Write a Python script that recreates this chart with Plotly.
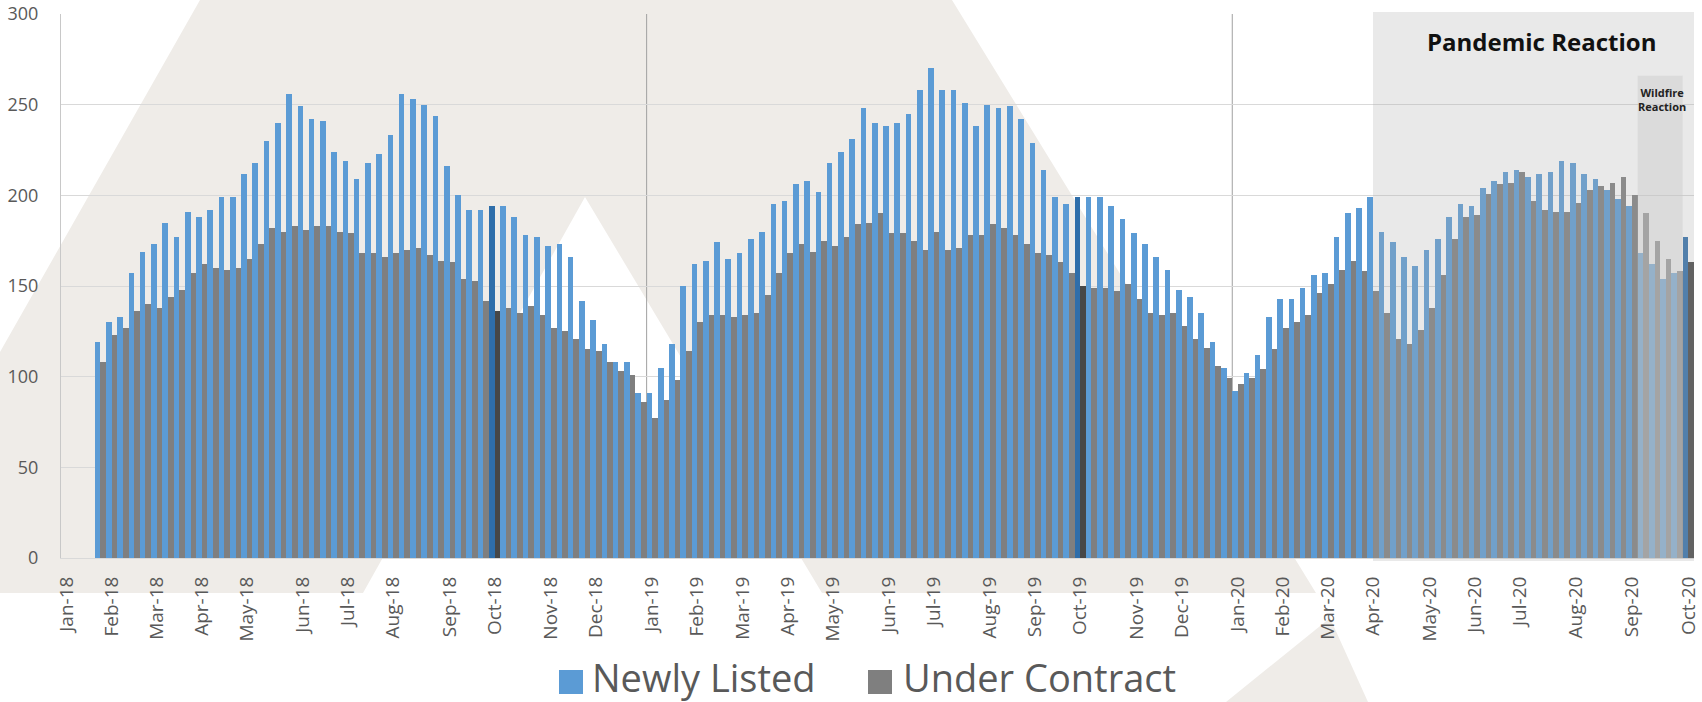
import plotly.graph_objects as go

# ---------------- data ----------------
weeks = list(range(145))  # weekly categories, Jan-18 .. Oct-20

newly_listed = [None, None, None,
    119,130,133,157,169,173,185,177,191,188,
    192,199,199,212,218,230,240,256,249,242,
    241,224,219,209,218,223,233,256,253,250,
    244,216,200,192,192,194,194,188,178,177,
    172,173,166,142,131,118,108,108,91,91,
    105,118,150,162,164,174,165,168,176,180,
    195,197,206,208,202,218,224,231,248,240,
    238,240,245,258,270,258,258,251,238,250,
    248,249,242,229,214,199,195,199,199,199,
    194,187,179,173,166,159,148,144,135,119,
    105,92,102,112,133,143,143,149,156,157,
    177,190,193,199,180,174,166,161,170,176,
    188,195,194,204,208,213,214,210,212,213,
    219,218,212,209,203,198,194,168,162,154,
    157,177]

under_contract = [None, None, None,
    108,123,127,136,140,138,144,148,157,162,
    160,159,160,165,173,182,180,183,181,183,
    183,180,179,168,168,166,168,170,171,167,
    164,163,154,153,142,136,138,135,139,134,
    127,125,121,115,114,108,103,101,86,77,
    87,98,114,130,134,134,133,134,135,145,
    157,168,173,169,175,172,177,184,185,190,
    179,179,175,170,180,170,171,178,178,184,
    182,178,173,168,167,163,157,150,149,149,
    147,151,143,135,134,135,128,121,116,106,
    99,96,99,104,115,127,130,134,146,151,
    159,164,158,147,135,121,118,126,138,156,
    176,188,189,201,206,207,213,197,192,191,
    191,196,203,205,207,210,200,190,175,165,
    158,163]

month_tick_pos = [0, 4, 8, 12, 16, 21, 25, 29, 34, 38, 43, 47,
                  52, 56, 60, 64, 68, 73, 77, 82, 86, 90, 95, 99,
                  104, 108, 112, 116, 121, 125, 129, 134, 139, 144]
month_tick_labels = ["Jan-18", "Feb-18", "Mar-18", "Apr-18", "May-18", "Jun-18",
                     "Jul-18", "Aug-18", "Sep-18", "Oct-18", "Nov-18", "Dec-18",
                     "Jan-19", "Feb-19", "Mar-19", "Apr-19", "May-19", "Jun-19",
                     "Jul-19", "Aug-19", "Sep-19", "Oct-19", "Nov-19", "Dec-19",
                     "Jan-20", "Feb-20", "Mar-20", "Apr-20", "May-20", "Jun-20",
                     "Jul-20", "Aug-20", "Sep-20", "Oct-20"]
highlight_weeks = [38, 90, 144]   # first week of October each year
year_breaks = [51.5, 103.5]
pandemic_start = 116
wildfire_span = [139.5, 143.5]
wildfire_top = 266

# ---------------- style ----------------
BLUE, BLUE_DARK = "#5B9BD5", "#2F6EAA"
GRAY, GRAY_DARK = "#7F7F7F", "#474747"
TXT = "#595959"
FONT = "Open Sans"

W, H = 1702, 702
ML, MR, MT, MB = 61, 8, 14, 144
PW, PH = W - ML - MR, H - MT - MB


def px(xp):
    return (xp - ML) / PW


def py(yp):
    return (H - MB - yp) / PH


blue_colors = [BLUE_DARK if i in highlight_weeks else BLUE for i in weeks]
gray_colors = [GRAY_DARK if i in highlight_weeks else GRAY for i in weeks]

fig = go.Figure()
fig.add_trace(go.Bar(x=weeks, y=newly_listed, name="Newly Listed",
                     marker=dict(color=blue_colors, line=dict(width=0))))
fig.add_trace(go.Bar(x=weeks, y=under_contract, name="Under Contract",
                     marker=dict(color=gray_colors, line=dict(width=0))))

shapes = []
# watermark background
pts = [(200, 0), (952, 0), (1316, 593), (822, 593), (585, 197), (363, 593),
       (0, 593), (0, 352)]
path = "M " + " L ".join(f"{px(a):.5f},{py(b):.5f}" for a, b in pts) + " Z"
shapes.append(dict(type="path", path=path, xref="paper", yref="paper",
                   fillcolor="#EFECE8", line=dict(width=0), layer="below"))
pts2 = [(1330, 618), (1368, 702), (1226, 702)]
path2 = "M " + " L ".join(f"{px(a):.5f},{py(b):.5f}" for a, b in pts2) + " Z"
shapes.append(dict(type="path", path=path2, xref="paper", yref="paper",
                   fillcolor="#EFECE8", line=dict(width=0), layer="below"))
# year separators
for xb in year_breaks:
    shapes.append(dict(type="line", x0=xb, x1=xb, y0=0, y1=300, xref="x", yref="y",
                       line=dict(color="#A0A0A0", width=1), layer="below"))
# pandemic region
shapes.append(dict(type="rect", x0=pandemic_start, x1=144.5, y0=py(561), y1=py(12),
                   xref="x", yref="paper", fillcolor="rgba(175,175,175,0.27)",
                   line=dict(width=0), layer="above"))
# wildfire region
shapes.append(dict(type="rect", x0=wildfire_span[0], x1=wildfire_span[1], y0=py(561),
                   y1=wildfire_top, xref="x", yref="y",
                   fillcolor="rgba(200,200,200,0.42)", line=dict(width=0), layer="above"))
# custom legend squares
shapes.append(dict(type="rect", xref="paper", yref="paper", x0=px(559), x1=px(583),
                   y0=py(694), y1=py(670), fillcolor=BLUE, line=dict(width=0)))
shapes.append(dict(type="rect", xref="paper", yref="paper", x0=px(868), x1=px(892),
                   y0=py(694), y1=py(670), fillcolor=GRAY, line=dict(width=0)))

annotations = [
    dict(text="<b>Pandemic Reaction</b>", x=px(1541), y=py(41), xref="paper", yref="paper",
         showarrow=False, font=dict(family=FONT, size=24, color="#111111"),
         xanchor="center", yanchor="middle"),
    dict(text="<b>Wildfire<br>Reaction</b>", x=px(1662), y=py(99), xref="paper", yref="paper",
         showarrow=False, font=dict(family=FONT, size=11, color="#222222"),
         xanchor="center", yanchor="middle"),
    dict(text="Newly Listed", x=px(591), y=py(677), xref="paper", yref="paper",
         showarrow=False, font=dict(family=FONT, size=38, color=TXT),
         xanchor="left", yanchor="middle", borderpad=0),
    dict(text="Under Contract", x=px(902), y=py(677), xref="paper", yref="paper",
         showarrow=False, font=dict(family=FONT, size=38, color=TXT),
         xanchor="left", yanchor="middle", borderpad=0),
]

fig.update_layout(
    width=W, height=H,
    margin=dict(l=ML, r=MR, t=MT, b=MB, autoexpand=False),
    paper_bgcolor="white", plot_bgcolor="rgba(0,0,0,0)",
    barmode="group", bargap=0, bargroupgap=0,
    showlegend=False,
    shapes=shapes, annotations=annotations,
    font=dict(family=FONT, color=TXT),
)
fig.update_xaxes(range=[-0.5, 144.5], tickmode="array", tickvals=month_tick_pos,
                 ticktext=month_tick_labels, tickangle=-90, showgrid=False,
                 showline=True, linecolor="#D9D9D9", linewidth=1, ticks="",
                 tickfont=dict(family=FONT, size=19, color=TXT), ticklabelstandoff=10,
                 ticklabeloverflow="allow", zeroline=False)
fig.update_yaxes(range=[0, 300], tickmode="array", tickvals=[0, 50, 100, 150, 200, 250, 300],
                 showgrid=True, gridcolor="#D9D9D9", gridwidth=1, zeroline=False,
                 showline=True, linecolor="#C8C8C8", linewidth=1, ticks="",
                 tickfont=dict(family=FONT, size=18, color=TXT), ticklabelstandoff=18)

fig.write_html("out.html", config={"displayModeBar": False},
               post_script="document.body.style.margin='0';document.body.style.overflow='hidden';")
